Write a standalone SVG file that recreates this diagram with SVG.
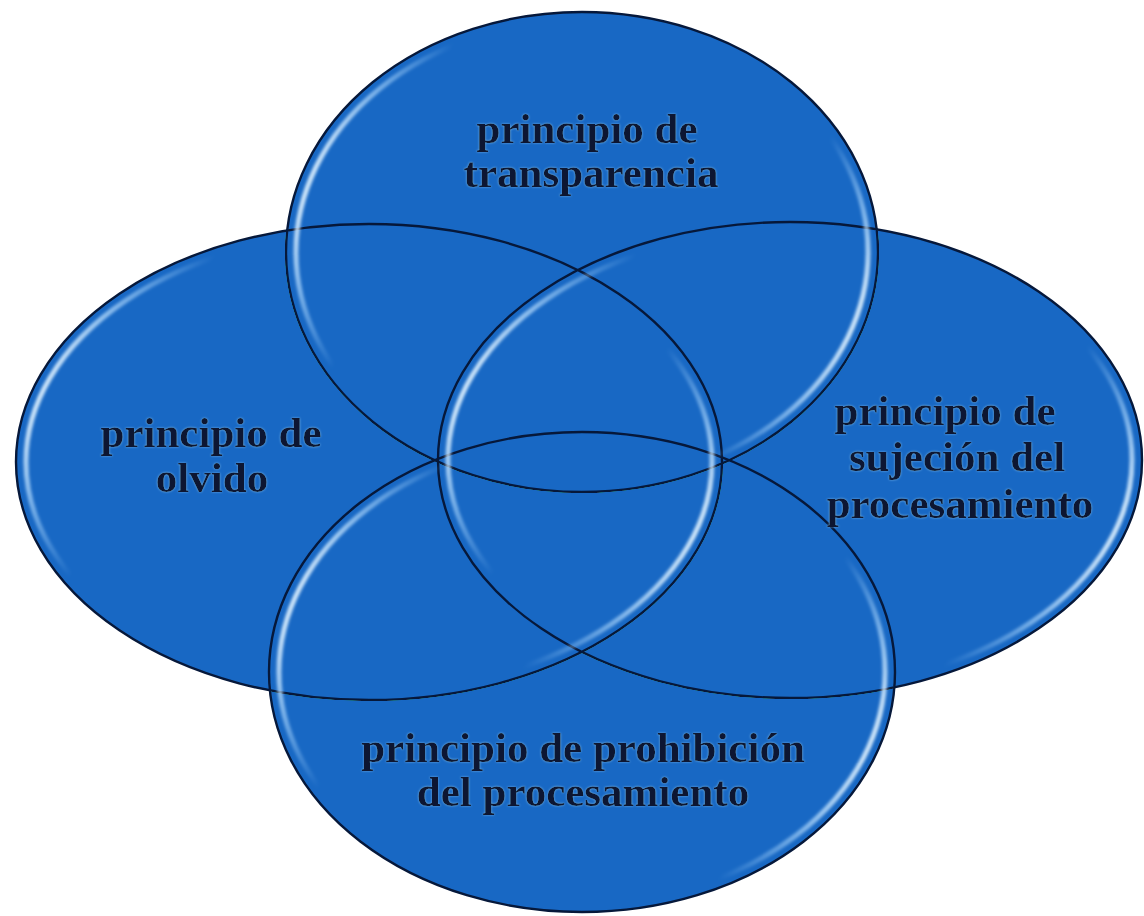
<svg xmlns="http://www.w3.org/2000/svg" width="1144" height="916" viewBox="0 0 1144 916">
<defs>
<linearGradient id="hl" x1="0" y1="0.35" x2="1" y2="0.65">
<stop offset="0" stop-color="#f0faff" stop-opacity="1"/>
<stop offset="0.07" stop-color="#b5ddff" stop-opacity="0.65"/>
<stop offset="0.17" stop-color="#9fd3ff" stop-opacity="0"/>
<stop offset="0.83" stop-color="#9fd3ff" stop-opacity="0"/>
<stop offset="0.93" stop-color="#b5ddff" stop-opacity="0.65"/>
<stop offset="1" stop-color="#f0faff" stop-opacity="1"/>
</linearGradient>
<filter id="soft" x="-5%" y="-5%" width="110%" height="110%">
<feGaussianBlur stdDeviation="1.4"/>
</filter>
<filter id="glow" x="-5%" y="-20%" width="110%" height="140%">
<feGaussianBlur in="SourceAlpha" stdDeviation="1.1" result="b"/>
<feFlood flood-color="#8cc8f2" flood-opacity="0.75"/>
<feComposite in2="b" operator="in" result="g"/>
<feMerge><feMergeNode in="g"/><feMergeNode in="SourceGraphic"/></feMerge>
</filter>
</defs>
<style>
.body{fill:#1868c4;stroke:#06183a;stroke-width:2.4;mix-blend-mode:darken}
.hi{fill:none;stroke:url(#hl);stroke-width:5;filter:url(#soft)}
.lbl{font-family:"Liberation Serif","DejaVu Serif",serif;font-weight:bold;font-size:43px;fill:#081630;text-anchor:middle;filter:url(#glow)}
</style>
<rect width="1144" height="916" fill="#ffffff"/>
<g id="node-top">
<ellipse class="body" cx="582" cy="252" rx="296" ry="240"/>
</g>
<g id="node-left">
<ellipse class="body" cx="369" cy="462" rx="353" ry="238"/>
</g>
<g id="node-right">
<ellipse class="body" cx="790" cy="460" rx="352" ry="238"/>
</g>
<g id="node-bottom">
<ellipse class="body" cx="582" cy="672" rx="313" ry="240"/>
</g>
<g id="highlights">
<ellipse class="hi" cx="582" cy="252" rx="286" ry="231"/>
<ellipse class="hi" cx="369" cy="462" rx="343" ry="229"/>
<ellipse class="hi" cx="790" cy="460" rx="342" ry="229"/>
<ellipse class="hi" cx="582" cy="672" rx="303" ry="231"/>
</g>
<g id="labels">
<text class="lbl" x="587" y="143">principio de</text>
<text class="lbl" x="591" y="187">transparencia</text>
<text class="lbl" x="211" y="447">principio de</text>
<text class="lbl" x="212" y="492">olvido</text>
<text class="lbl" x="945" y="425">principio de</text>
<text class="lbl" x="957" y="471">sujeción del</text>
<text class="lbl" x="960" y="518">procesamiento</text>
<text class="lbl" x="583" y="762">principio de prohibición</text>
<text class="lbl" x="583" y="806">del procesamiento</text>
</g>
<g id="connectors"></g>
</svg>
